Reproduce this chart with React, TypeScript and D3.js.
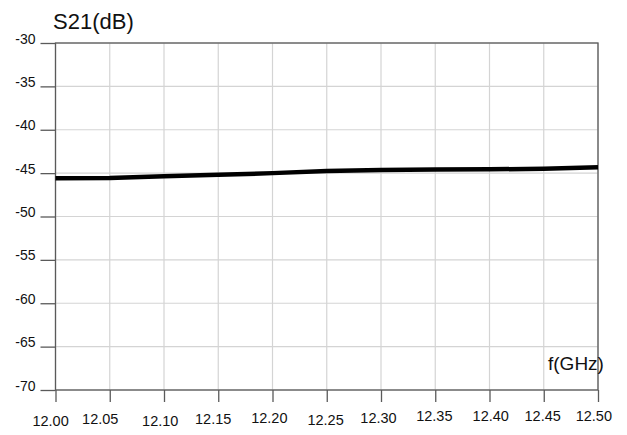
import React, { useRef, useEffect } from "react";
import * as d3 from "d3";

// frequency points (GHz) and measured S21 (dB)
const freqs = [12.0, 12.05, 12.1, 12.15, 12.2, 12.25, 12.3, 12.35, 12.4, 12.45, 12.5];
const s21 = [-45.6, -45.55, -45.35, -45.2, -45.0, -44.75, -44.65, -44.57, -44.56, -44.5, -44.33];

const xTicks = [12.0, 12.05, 12.1, 12.15, 12.2, 12.25, 12.3, 12.35, 12.4, 12.45, 12.5];
const yTicks = [-30, -35, -40, -45, -50, -55, -60, -65, -70];

// the original tick labels sit a little unevenly under the axis
const xLabelDx = [-5.4, -10, -4.3, -5.6, -3.7, -1.7, -3, -1.4, 0.7, -1.6, -4.7];
const xLabelDy = [4.5, 3, 4.8, 3, 2, 3.8, 2.3, -0.3, 0, 0, 0];

const FONT = "'Liberation Sans', Arial, sans-serif";

const App = () => {
  const node: any = useRef();

  useEffect(() => {
    const width = 627,
      height = 435;
    const left = 55.5,
      right = 598,
      top = 43,
      bottom = 390;

    const svg = d3.select(node.current).attr("width", width).attr("height", height);
    svg.selectAll("*").remove();

    const x = d3.scaleLinear().domain([12.0, 12.5]).range([left, right]);
    const y = d3.scaleLinear().domain([-70, -30]).range([bottom, top]);

    // grid
    const grid = svg.append("g").attr("stroke", "#d4d4d4").attr("stroke-width", 1.2);
    grid
      .selectAll("line.v")
      .data(xTicks)
      .enter()
      .append("line")
      .attr("x1", d => x(d))
      .attr("x2", d => x(d))
      .attr("y1", top)
      .attr("y2", bottom);
    grid
      .selectAll("line.h")
      .data(yTicks)
      .enter()
      .append("line")
      .attr("x1", left)
      .attr("x2", right)
      .attr("y1", d => y(d))
      .attr("y2", d => y(d));

    // frame
    svg
      .append("rect")
      .attr("x", left)
      .attr("y", top)
      .attr("width", right - left)
      .attr("height", bottom - top)
      .attr("fill", "none")
      .attr("stroke", "#5a5a5a")
      .attr("stroke-width", 1.3);

    // y axis (plain hyphen for the minus sign, as in the original)
    const yAxis = svg
      .append("g")
      .attr("transform", `translate(${left},0)`)
      .call(d3.axisLeft(y).tickValues(yTicks).tickSize(15).tickFormat(d => String(d)));
    yAxis.select(".domain").remove();
    yAxis.selectAll("line").attr("stroke", "#5a5a5a").attr("stroke-width", 1.3);
    yAxis
      .selectAll("text")
      .attr("x", -20)
      .attr("dy", "0em")
      .attr("fill", "#111")
      .style("font-family", FONT)
      .style("font-size", "14px");

    // x axis
    const xAxis = svg
      .append("g")
      .attr("transform", `translate(0,${bottom})`)
      .call(d3.axisBottom(x).tickValues(xTicks).tickSize(12).tickFormat(d3.format(".2f")));
    xAxis.select(".domain").remove();
    xAxis.selectAll("line").attr("stroke", "#5a5a5a").attr("stroke-width", 1.3);
    xAxis
      .selectAll("text")
      .attr("y", 35)
      .attr("dy", "0em")
      .attr("dx", (_, i: number) => xLabelDx[i])
      .attr("transform", (_, i: number) => `translate(0,${xLabelDy[i] - 4})`)
      .attr("fill", "#111")
      .style("font-family", FONT)
      .style("font-size", "14.5px");

    // data line
    const line = d3
      .line<number>()
      .x((_, i) => x(freqs[i]))
      .y(d => y(d));
    svg
      .append("path")
      .datum(s21)
      .attr("d", line)
      .attr("fill", "none")
      .attr("stroke", "#000")
      .attr("stroke-width", 4.5);

    // labels
    svg
      .append("text")
      .attr("x", 53)
      .attr("y", 29)
      .attr("fill", "#111")
      .style("font-family", FONT)
      .style("font-size", "22px")
      .text("S21(dB)");
    svg
      .append("text")
      .attr("x", 548)
      .attr("y", 370)
      .attr("fill", "#111")
      .style("font-family", FONT)
      .style("font-size", "19px")
      .text("f(GHz)");
  }, []);

  return (
    <div>
      <svg ref={node} style={{ position: "absolute", left: 0, top: 0, background: "#fff" }}></svg>
    </div>
  );
};

export default App;
